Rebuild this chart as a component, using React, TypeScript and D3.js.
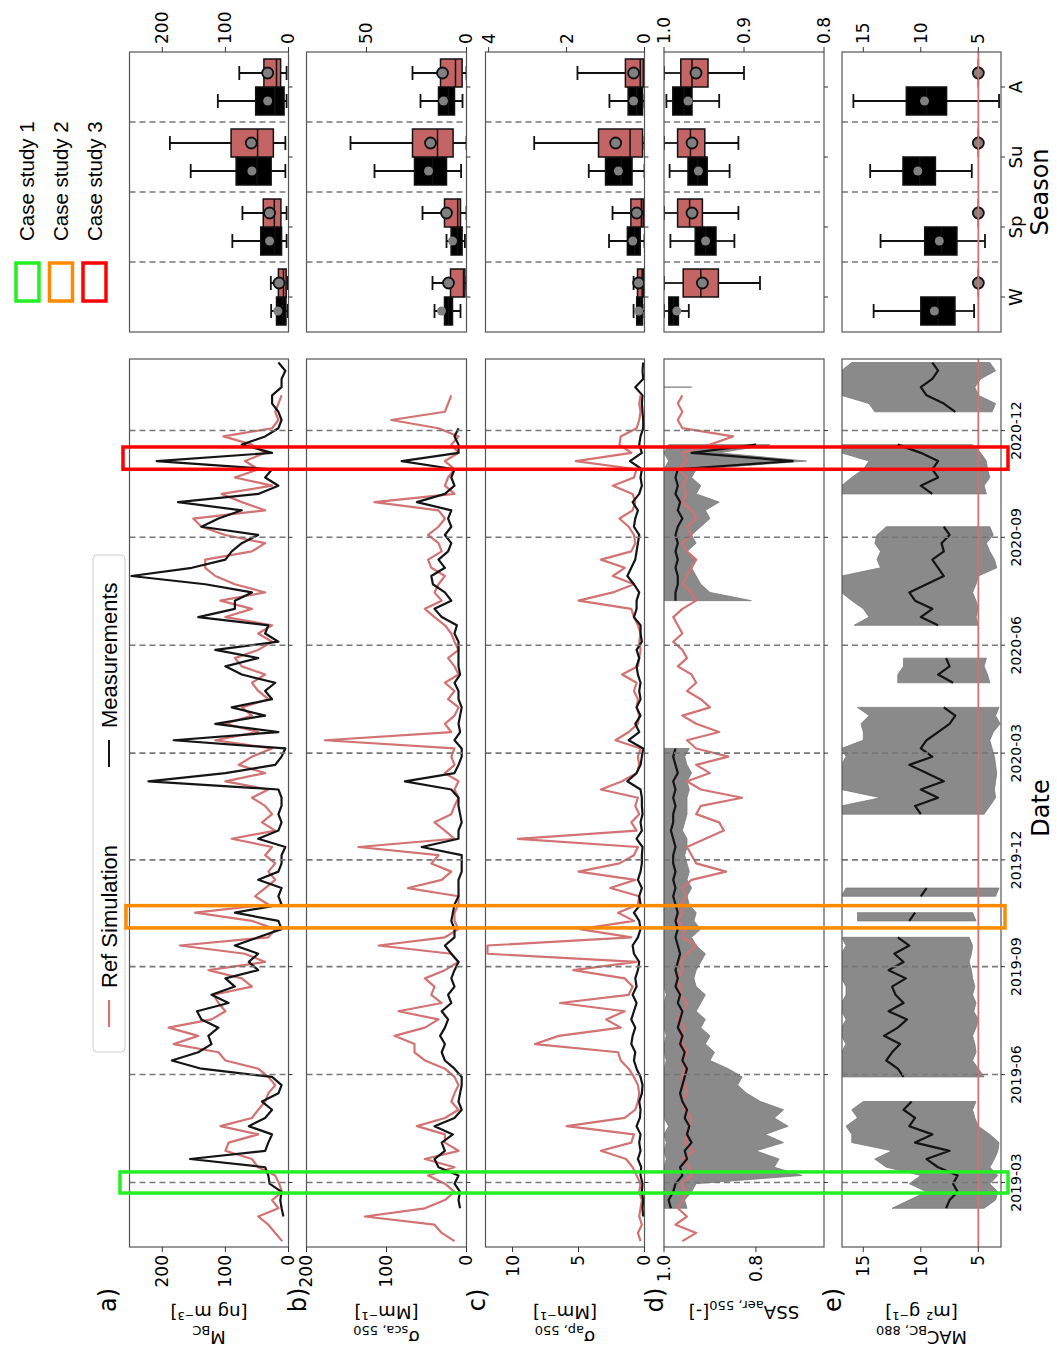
import React from "react";
import * as d3 from "d3";

// ---------------- DATA ----------------
// weekly sampling grid (starting 2019-01-10, 108 weeks)
const START_UTC = Date.UTC(2019, 0, 10);
const N_WEEKS = 108;
const weekDates: Date[] = d3.range(N_WEEKS).map((k) => new Date(START_UTC + k * 7 * 86400000));

const seasonTickDates = ["2019-03-01", "2019-06-01", "2019-09-01", "2019-12-01", "2020-03-01", "2020-06-01", "2020-09-01", "2020-12-01"];
const seasonTickLabels = ["2019-03", "2019-06", "2019-09", "2019-12", "2020-03", "2020-06", "2020-09", "2020-12"];
const seasons = ["W", "Sp", "Su", "A"];

const caseStudies = [
  { label: "Case study 1", color: "#22f022", start: "2019-02-20", end: "2019-03-10" },
  { label: "Case study 2", color: "#ff8a00", start: "2019-10-04", end: "2019-10-23" },
  { label: "Case study 3", color: "#ff0000", start: "2020-10-29", end: "2020-11-17" },
];

type V = number | null;
const _ = null;

// a) M_BC [ng m-3]
const aMeas: V[] = [_, _, _, 8, 11, 13, 11, 30, 32, 37, 156, 37, 32, 26, 63, 37, 26, 42, 16, 11, 26, 138, 185, 143, 122, 127, 111, 138, 145, 95, 122, 85, 100, 48, 63, 48, 85, 48, 11, 16, 85, 11, 16, 11, 48, 16, 11, 11, 5, 48, 16, 11, 16, 11,
  11, 16, 222, 100, 21, 11, 5, 182, 16, 116, 37, 90, 26, 37, 21, 74, 100, 48, 116, 16, 37, 32, 143, 85, 85, 58, 132, 249, 153, 100, 90, 74, 48, 138, 111, 74, 175, 48, 16, 37, 26, 209, 26, 74, 37, 16, 11, 16, 26, 26, 11, 11, 5, 16];
const aSim: V[] = [10, 21, 32, 48, 16, 26, 10, 15, 21, 48, 58, 100, 95, 48, 108, 58, 48, 37, 32, 21, 32, 48, 100, 111, 182, 143, 190, 122, 100, 111, 119, 58, 74, 127, 37, 69, 172, 32, 21, 58, 148, 32, 53, 37, 21, 32, 21, 37, 26, 90, 21, 42, 26, 37,
  58, 32, 100, 37, 79, 58, 26, 116, 48, 100, 58, 74, 32, 48, 58, 37, 74, 85, 48, 26, 48, 26, 100, 58, 108, 37, 85, 116, 132, 132, 58, 37, 100, 138, 151, 37, 74, 106, 26, 85, 48, 69, 37, 58, 103, 26, 16, 21, 16, 11, _, _, _, _];

// b) sigma_sca,550 [Mm-1]
const bMeas: V[] = [_, _, _, _, 8, 10, 8, 15, 10, 35, 40, 27, 31, 17, 40, 15, 6, 10, 8, 6, 6, 15, 27, 31, 27, 33, 27, 23, 31, 19, 23, 15, 19, 15, 10, 19, 27, 15, 15, 19, 17, 15, 10, 10, 10, 6, 6, 6, 56, 10, 10, 6, 8, 10,
  10, 19, 77, 15, 10, 6, 6, 15, 8, 10, 8, 6, 10, 10, 15, 8, 10, 10, 10, 10, 15, 12, 31, 40, 19, 27, 42, 44, 27, 35, 23, 19, 27, 19, 23, 19, 62, 27, 15, 19, 15, 81, 10, 10, 15, 10, _, _, _, _, _, _, _, _];
const bSim: V[] = [15, 31, 40, 127, 52, 27, 15, 27, 48, 15, 52, 10, 27, 27, 62, 27, 10, 19, 15, 10, 15, 27, 52, 65, 65, 90, 52, 35, 85, 31, 44, 40, 52, 27, 10, 19, 110, 27, 10, 15, 15, 10, 10, 73, 31, 19, 44, 35, 135, 15, 27, 40, 19, 15,
  10, 15, 10, 27, 15, 19, 15, 177, 19, 27, 15, 10, 23, 15, 27, 10, 15, 23, 10, 15, 19, 27, 40, 52, 31, 40, 35, 27, 44, 48, 31, 35, 48, 35, 27, 35, 115, 15, 27, 23, 15, 27, 10, 19, 10, 35, 94, 27, 23, 19, _, _, _, _];

// c) sigma_ap,550 [Mm-1]
const cMeas: V[] = [_, _, _, 0.1, 0.15, 0.1, 0.2, 0.15, 0.3, 0.25, 0.5, 0.3, 0.4, 0.3, 0.6, 0.35, 0.3, 0.4, 0.2, 0.15, 0.3, 0.6, 0.8, 0.7, 1.0, 0.9, 0.7, 1.0, 0.8, 0.6, 0.9, 0.6, 0.7, 0.5, 0.4, 0.8, 0.9, 0.5, 0.3, 0.4, 0.8, 0.3, 0.4, 0.2, 0.5, 0.3, 0.2, 0.2, 0.15, 0.6, 0.2, 0.3, 0.15, 0.2,
  0.2, 0.3, 1.3, 0.6, 0.3, 0.2, 0.1, 1.2, 0.4, 0.7, 0.3, 0.6, 0.3, 0.4, 0.3, 0.5, 0.6, 0.4, 0.6, 0.2, 0.3, 0.3, 0.8, 0.6, 0.6, 0.4, 0.8, 1.3, 1.0, 0.7, 0.6, 0.5, 0.4, 0.8, 0.7, 0.5, 0.9, 0.4, 0.2, 0.3, 0.2, 1.1, 0.2, 0.4, 0.3, 0.1, 0.1, 0.15, 0.2, 0.15, 0.7, 0.1, 0.15, 0.1];
const cSim: V[] = [0.3, 0.5, 0.2, 0.4, 0.3, 0.2, 0.4, 0.3, 0.6, 0.9, 1.4, 3.3, 1.0, 0.8, 5.9, 1.5, 0.7, 0.5, 0.4, 0.5, 0.8, 1.2, 1.8, 2.0, 8.3, 6.5, 1.8, 2.9, 1.5, 6.4, 1.2, 0.9, 1.5, 5.4, 0.6, 11.9, 11.9, 1.0, 4.9, 0.8, 2.0, 0.5, 0.4, 2.6, 0.7, 5.0, 1.9, 0.8, 0.5, 9.6, 0.6, 1.0, 0.4, 0.7,
  0.5, 3.3, 1.7, 0.6, 0.4, 0.5, 0.3, 2.2, 1.2, 0.5, 0.4, 0.6, 0.5, 0.8, 0.6, 1.7, 0.5, 0.4, 0.3, 0.4, 0.3, 0.5, 0.8, 1.0, 5.0, 2.4, 0.8, 2.4, 1.5, 3.3, 1.0, 0.7, 0.8, 1.2, 1.9, 0.9, 0.7, 0.9, 2.4, 0.8, 0.6, 5.2, 1.0, 1.9, 1.8, 0.6, 0.4, 0.3, 0.4, 0.3, _, _, _, _];

// d) SSA_aer,550 [-]
const dMeas: V[] = [_, _, _, _, 0.985, 0.99, 0.98, 0.975, 0.96, 0.965, 0.95, 0.955, 0.94, 0.95, 0.945, 0.955, 0.95, 0.96, 0.965, 0.96, 0.955, 0.95, 0.96, 0.955, 0.965, 0.96, 0.97, 0.965, 0.96, 0.97, 0.965, 0.975, 0.97, 0.975, 0.97, 0.965, 0.97, 0.975, 0.97, 0.975, 0.97, 0.975, 0.98, 0.975, 0.98, 0.975, 0.98, 0.98, 0.975, 0.98, 0.985, 0.98, 0.98, 0.975,
  0.98, 0.975, 0.98, 0.97, 0.975, 0.98, 0.975, _, _, _, _, _, _, _, _, _, _, _, _, _, _, _, _, _, 0.975, 0.975, 0.97, 0.97, 0.975, 0.97, 0.975, 0.97, 0.975, 0.97, 0.96, 0.97, 0.965, 0.975, 0.97, 0.975, 0.97, 0.72, 0.94, 0.8, _, _, _, _, _, _, 0.97, _, _, _];
const dLo: V[] = [_, _, _, _, 0.95, 0.955, 0.94, 0.93, 0.7, 0.76, 0.75, 0.8, 0.74, 0.78, 0.73, 0.76, 0.74, 0.79, 0.82, 0.84, 0.83, 0.86, 0.9, 0.89, 0.91, 0.9, 0.92, 0.91, 0.93, 0.92, 0.91, 0.93, 0.935, 0.93, 0.92, 0.91, 0.93, 0.94, 0.92, 0.935, 0.93, 0.945, 0.95, 0.94, 0.95, 0.945, 0.95, 0.955, 0.95, 0.95, 0.96, 0.955, 0.95, 0.95,
  0.95, 0.945, 0.95, 0.94, 0.95, 0.955, 0.945, _, _, _, _, _, _, _, _, _, _, _, _, _, _, _, _, _, 0.81, 0.9, 0.92, 0.93, 0.94, 0.93, 0.95, 0.93, 0.94, 0.92, 0.9, 0.91, 0.88, 0.93, 0.92, 0.94, 0.93, 0.69, 0.88, 0.77, _, _, _, _, _, _, 0.94, _, _, _];
const dHi: V[] = [_, _, _, _, 1, 1, 1, 1, 1, 1, 0.995, 1, 0.995, 1, 0.99, 1, 1, 1, 1, 1, 1, 1, 0.995, 1, 1, 0.995, 1, 1, 1, 1, 0.995, 1, 1, 1, 1, 1, 1, 1, 1, 1, 1, 1, 1, 1, 1, 1, 1, 1, 1, 1, 1, 1, 1, 1,
  1, 1, 1, 1, 1, 1, 1, _, _, _, _, _, _, _, _, _, _, _, _, _, _, _, _, _, 1, 1, 1, 1, 1, 1, 1, 1, 1, 1, 1, 1, 1, 1, 1, 1, 1, 0.99, 1, 0.99, _, _, _, _, _, _, 1, _, _, _];
const dSim: V[] = [0.96, 0.93, 0.975, 0.95, 0.97, 0.96, 0.955, 0.96, 0.94, 0.945, 0.96, 0.935, 0.955, 0.95, 0.945, 0.94, 0.955, 0.96, 0.95, 0.955, 0.96, 0.955, 0.96, 0.95, 0.96, 0.965, 0.955, 0.97, 0.96, 0.95, 0.965, 0.965, 0.97, 0.96, 0.965, 0.95, 0.93, 0.96, 0.955, 0.97, 0.96, 0.965, 0.95, 0.96, 0.94, 0.865, 0.93, 0.94, 0.95, 0.91, 0.87, 0.88, 0.93, 0.92,
  0.83, 0.92, 0.95, 0.9, 0.93, 0.86, 0.93, 0.95, 0.88, 0.93, 0.96, 0.9, 0.92, 0.95, 0.93, 0.94, 0.97, 0.95, 0.96, 0.98, 0.96, 0.97, 0.98, 0.96, 0.93, 0.94, 0.96, 0.95, 0.94, 0.93, 0.95, 0.96, 0.94, 0.95, 0.93, 0.94, 0.96, 0.95, 0.96, 0.95, 0.97, 0.95, 0.96, 0.9, 0.85, 0.96, 0.97, 0.96, 0.97, 0.96, _, _, _, _];

// e) MAC_BC,880 [m2 g-1]
const eMeas: V[] = [_, _, _, _, 7.8, 7.5, 6.8, 7.2, 6.8, 8.5, 9.5, 7.5, 10.5, 9.0, 11, 10.5, 11.5, 10.8, _, _, 11.5, 12, 13, 12.5, 11.8, 13.2, 12, 11.2, 12.8, 11.5, 12.2, 12.5, 11.3, 12.8, 11.5, 12.3, 11, 12, _, 11, 10.5, _, 10, 9.5, _, _, _, _, _, _, _, _, 10, 10.5,
  8.5, 10, 8, 9.5, 11, 9, 10, 9.5, 8.5, 7.5, 7, 8, _, _, 7.2, 8.5, 7.5, 7.8, _, _, _, 8.5, 10, 9, 10.5, 11, 9.5, 8, 8.5, 9, 8, 8.2, 7.5, 8, _, _, _, 9, 10, 8.5, 9, 8.5, 10, 12, _, _, _, 7, 8, 9.5, 10, 9, 8.5, 9];
const eLo: V[] = [_, _, _, _, 4.5, 3.5, 3.3, 4.0, 3.3, 4.0, 3.6, 3.3, 3.2, 4.0, 5, 5.3, 5.5, 5.2, _, _, 4.5, 5, 5.5, 5.2, 5.3, 5.5, 5.2, 5.0, 5.4, 5.2, 5.5, 5.3, 5.5, 5.6, 5.8, 5.6, 5.5, 5.8, _, 5.2, 5.5, _, 3.5, 3.2, _, _, _, _, _, _, _, _, 4.5, 4,
  3.5, 3.6, 3.5, 3.4, 3.5, 3.6, 3.8, 4, 3.7, 3.1, 3.5, 3.2, _, _, 4, 4.2, 4.5, 4.3, _, _, _, 5, 5.2, 5, 5.2, 5.5, 5.2, 5, 3.4, 3.6, 4, 4.3, 3.7, 4.0, _, _, _, 4.3, 4.5, 4, 4.2, 4.3, 4.8, 5.5, _, _, _, 3.8, 3.5, 5, 5.3, 4.8, 3.5, 4];
const eHi: V[] = [_, _, _, _, 12.5, 11, 9.5, 11, 10, 13, 14, 12.5, 16, 16, 16.5, 15.5, 16, 15, _, _, 16.9, 16.9, 16.9, 16.9, 16.5, 16.9, 16.9, 16.5, 16.9, 16.9, 16.5, 16.5, 16.9, 16.9, 16.9, 16.9, 16.5, 16.9, _, 15.5, 15.5, _, 16.9, 16.5, _, _, _, _, _, _, _, _, 16.9, 16.9,
  13.5, 16.9, 16.9, 16.9, 16.9, 16.5, 16.9, 15, 15, 15.2, 14.5, 15.5, _, _, 12, 12, 11.5, 11.5, _, _, _, 15.8, 14.5, 15, 16, 16.9, 16.9, 16.9, 13.5, 13.8, 13.5, 14, 13.8, 13, _, _, _, 16.9, 16.9, 16, 15, 14.5, 16.9, 16.9, _, _, _, 14, 14.5, 16.9, 16.9, 16.9, 16.9, 16];
const eSimValue = 5;

// seasonal box stats per season [W, Sp, Su, A]: [whiskerLow, q1, median, q3, whiskerHigh, mean]
const boxAMeas = [[1, 4, 9, 19, 27.5, 17], [3, 11, 22, 44, 89, 30], [5, 27.5, 50, 83, 155, 58], [3, 7, 22, 52, 112, 33]];
const boxASim = [[1, 3.7, 8, 16, 28, 15], [3, 12, 22.5, 40, 73, 30], [5, 24, 49, 91, 188, 59], [3, 12.5, 19, 39, 78, 33]];
const boxBMeas = [[3, 7, 9, 11, 16, 12.5], [0.8, 2.2, 4.5, 7.7, 10, 7], [2.7, 10, 17, 26, 46, 19], [2, 6, 9, 14, 23, 11.5]];
const boxBSim = [[0, 0.8, 1.5, 8, 17, 9], [0, 3, 4.4, 11, 22, 10], [0, 6.7, 14.5, 27, 58, 18], [0, 2.2, 5.5, 13, 27, 12]];
const boxCMeas = [[0, 0.05, 0.1, 0.2, 0.28, 0.15], [0, 0.11, 0.25, 0.44, 0.91, 0.3], [0, 0.32, 0.6, 1.0, 1.43, 0.67], [0, 0.05, 0.2, 0.42, 0.9, 0.28]];
const boxCSim = [[0, 0.03, 0.06, 0.18, 0.28, 0.15], [0, 0.03, 0.08, 0.35, 0.82, 0.2], [0, 0.05, 0.37, 1.18, 2.83, 0.74], [0, 0.03, 0.11, 0.49, 1.72, 0.28]];
const boxDMeas = [[0.969, 0.982, 0.988, 0.994, 1.0, 0.984], [0.912, 0.935, 0.948, 0.961, 0.992, 0.948], [0.918, 0.946, 0.958, 0.97, 0.993, 0.957], [0.931, 0.965, 0.975, 0.989, 0.997, 0.97]];
const boxDSim = [[0.88, 0.932, 0.954, 0.976, 1.0, 0.952], [0.907, 0.952, 0.968, 0.983, 1.0, 0.965], [0.907, 0.949, 0.967, 0.983, 1.0, 0.965], [0.9, 0.945, 0.965, 0.979, 1.0, 0.96]];
const boxEMeas = [[5.37, 7.03, 8.5, 10.0, 14.1, 8.82], [4.42, 6.86, 8.2, 9.66, 13.5, 8.39], [5.57, 8.73, 10.1, 11.55, 14.4, 10.26], [3.2, 7.76, 9.5, 11.26, 15.86, 9.68]];
const boxESim = [[5, 5, 5, 5, 5, 5], [5, 5, 5, 5, 5, 5], [5, 5, 5, 5, 5, 5], [5, 5, 5, 5, 5, 5]];

// ---------------- LAYOUT ----------------
const W = 1057, H = 1359;
const L_TOP = 359, L_BOT = 1247;
const B_TOP = 52, B_BOT = 332;
const SIM_COLOR = "#d27272";
const BOX_RED = "#c46464";
const FONT = "DejaVu Sans, sans-serif";
const LFONT = "Liberation Sans, Arial, sans-serif";

const parse = (s: string) => { const [y, m, d] = s.split("-").map(Number); return new Date(Date.UTC(y, m - 1, d)); };

const PANELS = [
  { id: "a", label: "a)", x0: 129.5, x1: 288.5, lDom: [0, 252], lTicks: [0, 100, 200], bDom: [0, 252], bTicks: [0, 100, 200], fmt: (v: number) => String(v),
    meas: aMeas, sim: aSim as V[] | null, lo: null as V[] | null, hi: null as V[] | null, bMeas: boxAMeas, bSim: boxASim,
    unit: "[ng m⁻³]", name: ["M", "BC"] },
  { id: "b", label: "b)", x0: 306.5, x1: 466.5, lDom: [0, 200], lTicks: [0, 100, 200], bDom: [0, 80], bTicks: [0, 50], fmt: (v: number) => String(v),
    meas: bMeas, sim: bSim, lo: null, hi: null, bMeas: boxBMeas, bSim: boxBSim, unit: "[Mm⁻¹]", name: ["σ", "sca, 550"] },
  { id: "c", label: "c)", x0: 485.5, x1: 644.5, lDom: [0, 12.05], lTicks: [0, 5, 10], bDom: [0, 4.08], bTicks: [0, 2, 4], fmt: (v: number) => String(v),
    meas: cMeas, sim: cSim, lo: null, hi: null, bMeas: boxCMeas, bSim: boxCSim, unit: "[Mm⁻¹]", name: ["σ", "ap, 550"] },
  { id: "d", label: "d)", x0: 664, x1: 824, lDom: [0.652, 1.0], lTicks: [0.8, 1.0], bDom: [0.8, 1.0], bTicks: [0.8, 0.9, 1.0], fmt: (v: number) => v.toFixed(1),
    meas: dMeas, sim: dSim, lo: dLo, hi: dHi, bMeas: boxDMeas, bSim: boxDSim, unit: "", name: ["SSA", "aer, 550"] },
  { id: "e", label: "e)", x0: 842, x1: 1001, lDom: [3.03, 16.85], lTicks: [5, 10, 15], bDom: [3.03, 16.85], bTicks: [5, 10, 15], fmt: (v: number) => String(v),
    meas: eMeas, sim: null, lo: eLo, hi: eHi, bMeas: boxEMeas, bSim: boxESim, unit: "[m² g⁻¹]", name: ["MAC", "BC, 880"] },
];

const tScale = d3.scaleUtc().domain([new Date(Date.UTC(2019, 0, 5)), new Date(Date.UTC(2021, 0, 31))]).range([L_BOT, L_TOP]);
const sScale = d3.scaleLinear().domain([-0.5, 3.5]).range([B_BOT, B_TOP]);

// vertical text reading bottom-to-top
function VText(props: { x: number; y: number; anchor?: string; size: number; family?: string; children: React.ReactNode; dy?: string }) {
  const { x, y, anchor = "middle", size, family = FONT, children, dy = "0.35em" } = props;
  return (
    <text transform={`translate(${x},${y}) rotate(-90)`} textAnchor={anchor} fontSize={size} fontFamily={family} dy={dy} fill="#000">
      {children}
    </text>
  );
}

function LeftPanel({ p }: { p: (typeof PANELS)[number] }) {
  const x = d3.scaleLinear().domain(p.lDom).range([p.x1, p.x0]);
  const idx = d3.range(N_WEEKS);
  const line = (arr: V[]) =>
    d3.line<number>().defined((i) => arr[i] != null).x((i) => x(arr[i] as number)).y((i) => tScale(weekDates[i]))(idx) || "";
  const band = p.lo && p.hi
    ? d3.area<number>().defined((i) => p.lo![i] != null && p.hi![i] != null)
        .x0((i) => x(p.lo![i] as number)).x1((i) => x(p.hi![i] as number)).y((i) => tScale(weekDates[i]))(idx) || ""
    : null;
  const clip = `clip-l-${p.id}`;
  return (
    <g>
      <defs>
        <clipPath id={clip}><rect x={p.x0} y={L_TOP} width={p.x1 - p.x0} height={L_BOT - L_TOP} /></clipPath>
      </defs>
      <rect x={p.x0} y={L_TOP} width={p.x1 - p.x0} height={L_BOT - L_TOP} fill="#fff" />
      <g clipPath={`url(#${clip})`}>
        {band && <path d={band} fill="#8a8a8a" stroke="#7a7a7a" strokeWidth={0.8} />}
        {p.sim && <path d={line(p.sim)} fill="none" stroke={SIM_COLOR} strokeWidth={2.2} strokeLinejoin="round" />}
        <path d={line(p.meas)} fill="none" stroke="#141414" strokeWidth={2.2} strokeLinejoin="round" />
        {p.id === "e" && <line x1={x(eSimValue)} x2={x(eSimValue)} y1={L_TOP} y2={L_BOT} stroke={SIM_COLOR} strokeWidth={1.8} />}
        {seasonTickDates.map((s) => (
          <line key={s} x1={p.x0} x2={p.x1} y1={tScale(parse(s))} y2={tScale(parse(s))} stroke="#777" strokeWidth={1.6} strokeDasharray="6,4" />
        ))}
      </g>
      <rect x={p.x0} y={L_TOP} width={p.x1 - p.x0} height={L_BOT - L_TOP} fill="none" stroke="#555" strokeWidth={1.2} />
      {seasonTickDates.map((s) => (
        <line key={s} x1={p.x1} x2={p.x1 + 4} y1={tScale(parse(s))} y2={tScale(parse(s))} stroke="#333" strokeWidth={1} />
      ))}
      {p.lTicks.map((t) => (
        <g key={t}>
          <line x1={x(t)} x2={x(t)} y1={L_BOT} y2={L_BOT + 5} stroke="#333" strokeWidth={1} />
          <VText x={x(t)} y={L_BOT + 8} anchor="end" size={17}>{p.fmt(t)}</VText>
        </g>
      ))}
    </g>
  );
}

function BoxPanel({ p }: { p: (typeof PANELS)[number] }) {
  const x = d3.scaleLinear().domain(p.bDom).range([p.x1, p.x0]);
  const half = sScale(0) - sScale(0.2);
  const drawBox = (st: number[], pos: number, fill: string, key: string, isMeas: boolean) => {
    const cy = sScale(pos);
    const [wl, q1, med, q3, wh, mean] = st;
    return (
      <g key={key}>
        <line x1={x(wl)} x2={x(q1)} y1={cy} y2={cy} stroke="#111" strokeWidth={1.8} />
        <line x1={x(q3)} x2={x(wh)} y1={cy} y2={cy} stroke="#111" strokeWidth={1.8} />
        <line x1={x(wl)} x2={x(wl)} y1={cy - half / 2} y2={cy + half / 2} stroke="#111" strokeWidth={1.8} />
        <line x1={x(wh)} x2={x(wh)} y1={cy - half / 2} y2={cy + half / 2} stroke="#111" strokeWidth={1.8} />
        <rect x={x(q3)} y={cy - half} width={Math.max(0, x(q1) - x(q3))} height={2 * half} fill={fill} stroke="#111" strokeWidth={1.5} />
        <line x1={x(med)} x2={x(med)} y1={cy - half} y2={cy + half} stroke="#111" strokeWidth={1.5} />
        <circle cx={x(mean)} cy={cy} r={isMeas ? 4.5 : 5.5} fill="#808080" stroke={isMeas ? "none" : "#111"} strokeWidth={1.8} />
      </g>
    );
  };
  const clip = `clip-b-${p.id}`;
  return (
    <g>
      <defs>
        <clipPath id={clip}><rect x={p.x0} y={B_TOP} width={p.x1 - p.x0} height={B_BOT - B_TOP} /></clipPath>
      </defs>
      <g clipPath={`url(#${clip})`}>
        {[0.5, 1.5, 2.5].map((s) => (
          <line key={s} x1={p.x0} x2={p.x1} y1={sScale(s)} y2={sScale(s)} stroke="#777" strokeWidth={1.6} strokeDasharray="6,4" />
        ))}
        {seasons.map((s, i) => drawBox(p.bMeas[i], i - 0.2, "#000", "m" + s, true))}
        {seasons.map((s, i) => drawBox(p.bSim[i], i + 0.2, BOX_RED, "s" + s, false))}
        {p.id === "e" && <line x1={x(eSimValue)} x2={x(eSimValue)} y1={B_TOP} y2={B_BOT} stroke={SIM_COLOR} strokeWidth={1.8} />}
      </g>
      <rect x={p.x0} y={B_TOP} width={p.x1 - p.x0} height={B_BOT - B_TOP} fill="none" stroke="#555" strokeWidth={1.2} />
      {seasons.map((s, i) => (
        <line key={s} x1={p.x1} x2={p.x1 + 4} y1={sScale(i)} y2={sScale(i)} stroke="#333" strokeWidth={1} />
      ))}
      {p.bTicks.map((t) => (
        <g key={t}>
          <line x1={x(t)} x2={x(t)} y1={B_TOP} y2={B_TOP - 5} stroke="#333" strokeWidth={1} />
          <VText x={x(t)} y={B_TOP - 8} anchor="start" size={17}>{p.fmt(t)}</VText>
        </g>
      ))}
    </g>
  );
}

function AxisLabel({ p }: { p: (typeof PANELS)[number] }) {
  const cx = (p.x0 + p.x1) / 2;
  if (p.id === "d") {
    return (
      <text transform={`translate(${cx},1306) rotate(180)`} textAnchor="middle" fontSize={18} fontFamily={FONT} fill="#000">
        {p.name[0]}
        <tspan fontSize={13} dy={5}>{p.name[1]}</tspan>
        <tspan dy={-5}>[-]</tspan>
      </text>
    );
  }
  return (
    <g>
      <text transform={`translate(${cx},1306) rotate(180)`} textAnchor="middle" fontSize={18} fontFamily={FONT} fill="#000">{p.unit}</text>
      <text transform={`translate(${cx},1331) rotate(180)`} textAnchor="middle" fontSize={18} fontFamily={FONT} fill="#000">
        {p.name[0]}
        <tspan fontSize={13} dy={5}>{p.name[1]}</tspan>
      </text>
    </g>
  );
}

export default function App() {
  const caseX0 = [120, 126, 123];
  const caseX1 = [1008, 1005, 1008];
  return (
    <div style={{ position: "absolute", left: 0, top: 0 }}>
      <svg width={W} height={H} viewBox={`0 0 ${W} ${H}`} style={{ display: "block", background: "#fff" }}>
        <rect x={0} y={0} width={W} height={H} fill="#fff" />
        {PANELS.map((p) => <LeftPanel key={p.id} p={p} />)}
        {PANELS.map((p) => <BoxPanel key={p.id} p={p} />)}
        {PANELS.map((p) => <AxisLabel key={p.id} p={p} />)}
        {PANELS.map((p) => (
          <VText key={p.id} x={p.id === "a" ? 108 : p.x0 - 9} y={1300} size={24}>{p.label}</VText>
        ))}

        {/* date tick labels */}
        {seasonTickDates.map((s, i) => (
          <VText key={s} x={1016} y={tScale(parse(s))} size={14}>{seasonTickLabels[i]}</VText>
        ))}
        <VText x={1041} y={808} size={24}>Date</VText>

        {/* season tick labels */}
        {seasons.map((s, i) => (
          <VText key={s} x={1016} y={sScale(i)} size={18}>{s}</VText>
        ))}
        <VText x={1040} y={192} size={24}>Season</VText>

        {/* legend: lines */}
        <rect x={93} y={555} width={32} height={497} rx={4} fill="#fff" fillOpacity={0.85} stroke="#cccccc" strokeWidth={1} />
        <line x1={109} x2={109} y1={1027} y2={1000} stroke={SIM_COLOR} strokeWidth={2.2} />
        <VText x={109} y={988} anchor="start" size={22} family={LFONT}>Ref Simulation</VText>
        <line x1={109} x2={109} y1={767} y2={740} stroke="#141414" strokeWidth={2} />
        <VText x={109} y={728} anchor="start" size={22} family={LFONT}>Measurements</VText>

        {/* case study rectangles */}
        {caseStudies.map((c, i) => (
          <rect key={c.label} x={caseX0[i]} y={tScale(parse(c.end))} width={caseX1[i] - caseX0[i]} height={tScale(parse(c.start)) - tScale(parse(c.end))}
            fill="none" stroke={c.color} strokeWidth={3.5} />
        ))}
        {/* case study legend */}
        {caseStudies.map((c, i) => (
          <g key={c.label}>
            <rect x={16 + i * 33.5} y={263} width={23} height={38} fill="none" stroke={c.color} strokeWidth={3.5} />
            <VText x={27 + i * 34} y={241} anchor="start" size={20.5} family={LFONT}>{c.label}</VText>
          </g>
        ))}
      </svg>
    </div>
  );
}
